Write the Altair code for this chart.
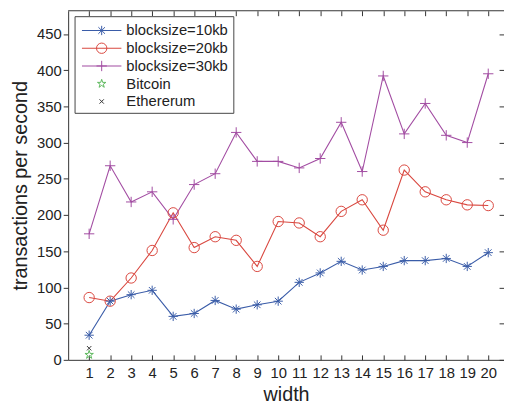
import altair as alt
import pandas as pd

# ---- data ----
width_vals = list(range(1, 21))
tps_10kb = [34, 81, 90, 96, 60, 64, 82, 70, 76, 81, 107, 120, 136, 124, 129, 137, 137, 140, 129, 148]
tps_20kb = [86, 81, 113, 151, 203, 155, 170, 165, 129, 191, 189, 170, 205, 221, 179, 262, 232, 221, 214, 213]
tps_30kb = [174, 268, 218, 232, 194, 242, 257, 314, 274, 274, 265, 278, 328, 260, 392, 312, 354, 310, 300, 395]
bitcoin_width = [1]
bitcoin_tps = [7]
ethereum_width = [1]
ethereum_tps = [16]

series_names = ["blocksize=10kb", "blocksize=20kb", "blocksize=30kb", "Bitcoin", "Ethererum"]
series_colors = ["#3a5ca8", "#d9473f", "#a24ca2", "#5cb85c", "#333333"]

x_ticks = list(range(1, 21))
y_ticks = list(range(0, 451, 50))

# ---- marker shapes (unit-box SVG paths) ----
ASTERISK = "M-0.9,0L0.9,0M0,-0.9L0,0.9M-0.64,-0.64L0.64,0.64M-0.64,0.64L0.64,-0.64"
PLUS = "M-1,0L1,0M0,-1L0,1"
STAR = ("M0,-0.85L0.19,-0.26L0.81,-0.26L0.31,0.1L0.5,0.69L0,0.32"
        "L-0.5,0.69L-0.31,0.1L-0.81,-0.26L-0.19,-0.26Z")
XMARK = "M-0.42,-0.42L0.42,0.42M-0.42,0.42L0.42,-0.42"
series_shapes = [ASTERISK, "circle", PLUS, STAR, XMARK]

# ---- tables ----
rows = []
for name, ys in zip(series_names[:3], [tps_10kb, tps_20kb, tps_30kb]):
    for w, v in zip(width_vals, ys):
        rows.append({"series": name, "width": w, "tps": v})
line_df = pd.DataFrame(rows)
pt_rows = list(rows)
for w, v in zip(bitcoin_width, bitcoin_tps):
    pt_rows.append({"series": "Bitcoin", "width": w, "tps": v})
for w, v in zip(ethereum_width, ethereum_tps):
    pt_rows.append({"series": "Ethererum", "width": w, "tps": v})
pt_df = pd.DataFrame(pt_rows)
leg_df = pd.DataFrame({"series": series_names})
one_row = pd.DataFrame({"a": [0]})

FONT = "Liberation Sans"
W, H = 442, 354

xs = alt.Scale(domain=[0, 20.75], nice=False, zero=False)
ys = alt.Scale(domain=[0, 482], nice=False, zero=True)
color = alt.Color("series:N", scale=alt.Scale(domain=series_names, range=series_colors), legend=None)
shape = alt.Shape("series:N", scale=alt.Scale(domain=series_names, range=series_shapes), legend=None)

x_main = alt.X("width:Q", scale=xs, axis=alt.Axis(
    values=x_ticks, ticks=False, grid=False, domainColor="#333", domainWidth=1,
    labelFont=FONT, labelFontSize=15, labelColor="#222", labelPadding=6, labelFlush=False,
    title="width", titleFont=FONT, titleFontSize=20, titleFontWeight="normal", titleColor="#222",
    titleY=41, titleBaseline="alphabetic"))
y_main = alt.Y("tps:Q", scale=ys, axis=alt.Axis(
    values=y_ticks, ticks=True, tickSize=5, tickColor="#333", grid=False,
    domainColor="#333", domainWidth=1,
    labelFont=FONT, labelFontSize=15, labelColor="#222", labelPadding=2,
    title="transactions per second", titleFont=FONT, titleFontSize=20, titleFontWeight="normal",
    titleColor="#222", titleX=-48, titleY=H / 2, titleAngle=270, titleBaseline="middle",
    titleAlign="center"))

lines = alt.Chart(line_df).mark_line(strokeWidth=1.1).encode(
    x=x_main, y=y_main, color=color, detail="series:N", order="width:Q")
points = alt.Chart(pt_df).mark_point(filled=False, size=110, strokeWidth=1, opacity=1).encode(
    x=x_main, y=y_main, color=color, shape=shape)
main = alt.layer(lines, points)

tick_base = alt.Chart(pt_df).mark_point(opacity=0)
bottom_ticks = tick_base.encode(x=alt.X("width:Q", scale=xs, axis=alt.Axis(
    orient="bottom", offset=-5, values=x_ticks, tickSize=5, tickColor="#333",
    domain=False, labels=False, grid=False, title=None)))
top_ticks = tick_base.encode(x=alt.X("width:Q", scale=xs, axis=alt.Axis(
    orient="top", offset=-5, values=x_ticks, tickSize=5, tickColor="#333",
    domain=False, labels=False, grid=False, title=None)))
right_ticks = tick_base.encode(y=alt.Y("tps:Q", scale=ys, axis=alt.Axis(
    orient="right", offset=-5, values=y_ticks, tickSize=5, tickColor="#333",
    domain=False, labels=False, grid=False, title=None)))
top_border = alt.Chart(one_row).mark_rule(color="#333", strokeWidth=1).encode(
    x=alt.value(0), x2=alt.value(W), y=alt.value(0))

# ---- legend ----
ly = alt.Y("series:N", sort=series_names,
           scale=alt.Scale(type="point", domain=series_names, range=[20, 92], padding=0),
           axis=None)
leg_box = alt.Chart(one_row).mark_rect(fill="white", stroke="#444", strokeWidth=1).encode(
    x=alt.value(7), x2=alt.value(168), y=alt.value(6), y2=alt.value(104))
leg_lines = alt.Chart(leg_df.iloc[:3]).mark_rule(strokeWidth=1.1).encode(
    x=alt.value(14), x2=alt.value(54), y=ly, color=color)
leg_pts = alt.Chart(leg_df).mark_point(filled=False, size=110, strokeWidth=1, opacity=1).encode(
    x=alt.value(34), y=ly, color=color, shape=shape)
leg_text = alt.Chart(leg_df).mark_text(align="left", baseline="middle", font=FONT,
                                        fontSize=15, color="#222").encode(
    x=alt.value(59), y=ly, text="series:N")
legend = alt.layer(leg_box, leg_lines, leg_pts, leg_text)

chart = alt.layer(main, bottom_ticks, top_ticks, right_ticks, top_border, legend).resolve_scale(
    x="independent", y="independent", color="shared", shape="shared"
).properties(
    width=W, height=H,
    autosize=alt.AutoSizeParams(type="none"),
    padding={"left": 61, "top": 0, "right": 0, "bottom": 43},
    background="white",
).configure_view(stroke=None)

chart.save("out.html", embed_options={"renderer": "svg", "actions": False})
